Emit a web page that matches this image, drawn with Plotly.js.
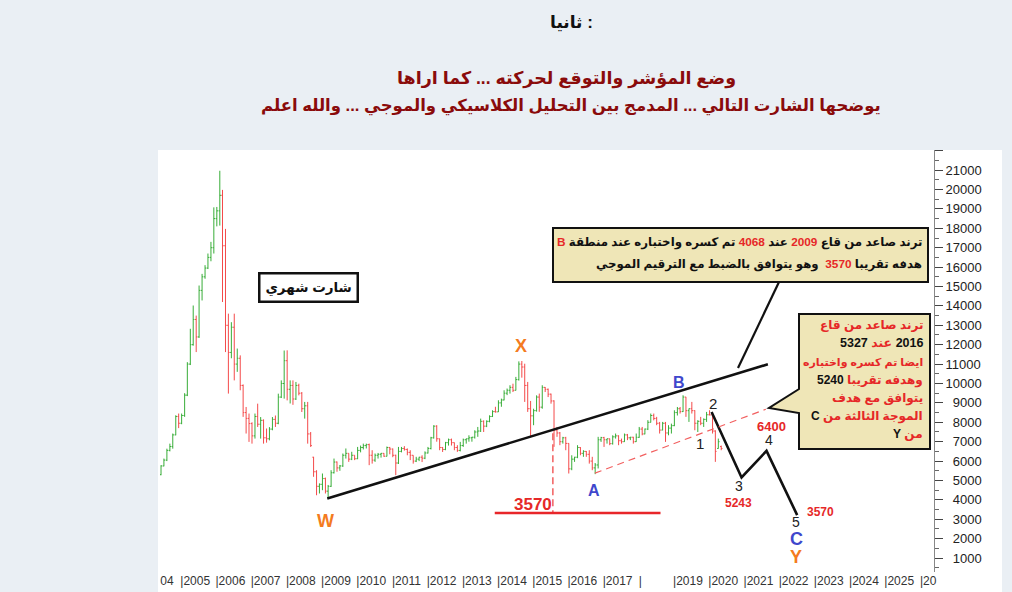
<!DOCTYPE html>
<html><head><meta charset="utf-8">
<script src="https://cdn.plot.ly/plotly-3.0.1.min.js"></script>
<style>html,body{margin:0;padding:0;background:#eaeff4;}#chart{width:1012px;height:592px;}</style>
</head><body><div id="chart"></div>
<script>
// ---- monthly OHLC bars (first bar June 2004) ----
const firstYear = 2004, firstMonth = 6;
const open = [
 5300,5750,6050,6550,6750,7350,8300,
 7950,8350,9400,11000,12000,13300,12400,14800,15500,15950,16500,17000,
 18500,18900,19700,17100,13000,11600,12900,11000,11300,9900,8500,8200,
 7933,7300,8300,7900,8100,7200,7150,7650,8150,7950,9300,10000,
 11176,9700,9900,9200,9900,9500,8700,8850,7400,6200,5450,4700,
 4803,5100,4450,4700,5400,5950,5650,5750,6300,6400,6100,6300,
 6122,6550,6700,6800,6850,6300,6050,6300,6350,6400,6250,6700,
 6621,6300,5900,6500,6650,6600,6450,6300,6000,6100,6200,6150,
 6418,6650,7200,7800,7150,6700,6600,6950,7100,6950,6700,6550,
 6801,7100,7150,7200,7230,7500,7550,8050,7800,8050,8300,8550,
 8536,9000,9150,9500,9650,9800,9650,10200,11000,10850,9900,8700,
 8333,8600,9300,8780,9800,9700,9450,9100,7600,7450,7000,7200,
 6912,5600,6100,6200,6700,6400,6500,6350,6000,5650,5800,7100,
 7210,7100,7150,6900,7250,7300,7050,7000,7350,7200,7230,7000,
 7226,7650,7400,7650,8000,8350,8200,7950,7600,7950,7450,7700,
 7827,8500,8700,8550,9300,8600,8700,8600,7950,8050,7950,8150,
 8389,8380,7550,6650,6750];
const high = [
 5790,6130,6640,6900,7420,8360,8450,
 8450,9500,11100,12820,14020,13500,15050,15650,16100,16700,17300,19080,
 19100,20966,19980,17970,13600,13160,13600,11800,11450,9950,8790,8450,
 8000,8450,8960,8270,8150,7680,7750,8270,8350,9475,10160,11700,
 11710,10160,10160,10080,9990,9560,9050,9050,7500,6220,5530,4850,
 5360,5150,4770,5530,6130,5980,5800,6390,6650,6400,6480,6300,
 6730,6800,6900,6900,6900,6560,6390,6420,6420,6410,6750,6730,
 6650,6330,6730,6730,6770,6650,6560,6300,6220,6220,6300,6500,
 6730,7250,7850,7850,7160,6730,6990,7160,7160,6960,6820,6990,
 7160,7160,7330,7250,7590,7760,8190,8100,8100,8360,8620,8800,
 9135,9220,9650,9740,9910,9990,10340,11140,11159,11020,10080,9100,
 8700,9390,9480,9910,9820,9740,9480,9135,7760,7500,7250,7250,
 6920,6300,6220,6820,6720,6560,6520,6560,6220,5900,7250,7250,
 7250,7160,7160,7330,7420,7330,7160,7420,7400,7250,7250,7420,
 7760,7760,7680,8110,8450,8450,8280,8020,8020,8020,7850,7930,
 8620,8790,8790,9393,9310,8710,9050,8620,8110,8280,8200,8535,
 8620,8450,7590,7160,6800];
const low = [
 5270,5730,6000,6500,6640,7330,7700,
 7900,8280,9350,10950,11950,11620,12350,14280,15400,15900,16300,16700,
 18100,18140,14200,11620,9480,11300,10160,10600,9650,8280,7420,6990,
 6900,7160,7760,7160,6900,6950,7070,7590,7760,7900,9250,9220,
 9130,8970,8900,9150,9390,8530,8190,6900,6730,5190,4240,4330,
 4500,4330,4068,4670,5360,5450,5500,5700,6130,5960,6050,6050,
 6100,6450,6600,6650,5790,5870,5960,6130,6180,6220,6240,6350,
 6200,5273,5850,6450,6540,6300,6050,5870,5950,6000,5950,6100,
 6390,6600,7160,7000,6560,6470,6560,6800,6800,6560,6475,6500,
 6733,6900,7000,7000,7160,7250,7500,7500,7750,8000,8270,8500,
 8530,8800,9130,9400,9480,9560,9640,10150,10300,9050,8535,7230,
 7850,8550,8540,8700,9560,9300,8960,6733,7250,6820,6900,6560,
 5360,5530,5960,6150,6300,6220,6220,5870,5530,5327,5620,6990,
 6730,6900,6820,6850,7160,6820,6900,6990,7080,7080,6900,6990,
 7200,7330,7380,7600,7990,8100,7850,7420,7590,6990,7330,7420,
 7800,8350,8450,8530,8280,8020,8450,7590,7500,7850,7760,8020,
 8360,7420,5960,6640,6560];
const close = [
 5750,6050,6550,6750,7350,8300,7950,
 8350,9400,11000,12000,13300,12400,14800,15500,15950,16500,17000,18500,
 18900,19700,17100,13000,11600,12900,11000,11300,9900,8500,8200,7933,
 7300,8300,7900,8100,7200,7150,7650,8150,7950,9300,10000,11176,
 9700,9900,9200,9900,9500,8700,8850,7400,6800,5450,4700,4803,
 5100,4450,4700,5400,5950,5650,5750,6300,6400,6100,6300,6122,
 6550,6700,6800,6850,6300,6050,6300,6350,6400,6250,6700,6621,
 6300,5900,6500,6650,6600,6450,6300,6000,6100,6200,6150,6418,
 6650,7200,7800,7150,6700,6600,6950,7100,6950,6700,6550,6801,
 7100,7150,7200,7230,7500,7550,8050,7800,8050,8300,8550,8536,
 9000,9150,9500,9650,9800,9650,10200,11000,10850,9900,8700,8333,
 8600,9300,8780,9800,9700,9450,9100,7600,7450,7000,7200,6912,
 5600,6100,6200,6700,6400,6500,6350,6000,5650,5800,7100,7210,
 7100,7150,6900,7250,7300,7050,7000,7350,7200,7230,7000,7226,
 7650,7400,7650,8000,8350,8200,7950,7600,7950,7450,7700,7827,
 8500,8700,8550,9300,8600,8700,8600,7950,8050,7950,8150,8389,
 8380,7550,6500,7000,6650];

// ---- axis labels ----
const years = [2005,2006,2007,2008,2009,2010,2011,2012,2013,2014,2015,2016,2017,2018,2019,2020,2021,2022,2023,2024,2025,2026];
const yearLabels = ['|2005','|2006','|2007','|2008','|2009','|2010','|2011','|2012','|2013','|2014','|2015','|2016','|2017','|','|2019','|2020','|2021','|2022','|2023','|2024','|2025','|20'];
const leftCutLabel = '04';
const yTickValues = [1000,2000,3000,4000,5000,6000,7000,8000,9000,10000,11000,12000,13000,14000,15000,16000,17000,18000,19000,20000,21000,22000];

// ---- drawn analysis (value units) ----
const trendX = ['2009-02-20','2021-08-28'];      const trendY = [4068, 10990];
const channelX = ['2016-09-28','2021-08-07'];    const channelY = [5378, 8672];
const breakX = ['2015-07-20','2015-07-20'];      const breakY = [7437, 3320];
const targetX = ['2013-11-24','2018-08-10'];     const targetY = [3320, 3320];
const projX = ['2020-01-22','2020-11-28','2021-08-14','2022-06-28'];
const projY = [8533, 5157, 6526, 3217];

// ---- helpers ----
const dates = open.map((_, i) => {
  const m = firstMonth - 1 + i;
  const y = firstYear + Math.floor(m / 12);
  return y + '-' + String(m % 12 + 1).padStart(2, '0') + '-01';
});
function dy(t){ const y=Math.floor(t); const s=Date.UTC(y,0,1), e=Date.UTC(y+1,0,1);
  return new Date(s+(t-y)*(e-s)).toISOString().slice(0,19).replace('T',' '); }
const L=160, R=934, T=150, B=572;
const px = x => (x-L)/(R-L);
const py = y => (B-y)/(B-T);
const PXYR = 35.2, X2005 = 181.6;
const tOf = x => 2005 + (x - X2005)/PXYR;

const tickvals = years.map((y, i) => {
  const lab = yearLabels[i];
  const off = lab === '|' ? 1.2 : (lab.length === 3 ? 7.4 : 13.6);
  return dy(y + off/PXYR);
});
tickvals.unshift(dy(tOf(167)));
const ticktext = [leftCutLabel].concat(yearLabels);
const FS = '\u2007';
const yTickText = yTickValues.map(v => v === 22000 ? ' ' : (String(v).length < 5 ? FS + v : String(v)));

const RED = '#e62828', ORANGE = '#f47b20', BLUE = '#3f47cc', BOX = '#efe6b7';
const AR = 'Liberation Sans, DejaVu Sans, sans-serif';
const RLE = '\u202B', PDF = '\u202C';
const rtl = s => RLE + s + PDF;
const red = s => '<span style="color:' + RED + '">' + s + '</span>';
const blk = s => '<span style="color:#111">' + s + '</span>';

function lab(text, x, y, size, color, extra){
  return Object.assign({text: text, xref:'paper', yref:'paper', x: px(x), y: py(y),
    xanchor:'center', yanchor:'middle', showarrow:false,
    font:{family: AR, size: size, color: color}}, extra||{});
}

const annotations = [
  // titles
  lab('<b>ثانيا :</b>', 571, 22, 17, '#111'),
  lab('<b>وضع المؤشر والتوقع لحركته ... كما اراها</b>', 566, 78, 17.5, '#8a0b0b'),
  lab('<b>يوضحها الشارت التالي ... المدمج بين التحليل الكلاسيكي والموجي ... والله اعلم</b>', 571, 106, 16.5, '#8a0b0b'),
  // monthly label box
  lab('<b>شارت شهري</b>', 308, 287.5, 13.5, '#111', {bgcolor:'#ffffff', bordercolor:'#111', borderwidth:2.5, borderpad:5}),
  // big box text
  lab('<b>' + rtl('ترند صاعد من قاع ' + red('2009') + ' عند ' + red('4068') + ' تم كسره واختباره عند منطقة ' + red('B')) + '</b>', 924, 242, 11.8, '#111', {xanchor:'right'}),
  lab('<b>' + rtl('هدفه تقريبا ' + red('3570') + '  وهو يتوافق بالضبط مع الترقيم الموجي') + '</b>', 924, 264, 11.8, '#111', {xanchor:'right'}),
  // right box text
  lab('<b>' + rtl('ترند صاعد من قاع') + '</b>', 925, 325, 12, RED, {xanchor:'right'}),
  lab('<b>' + rtl(blk('2016') + ' عند ' + blk('5327')) + '</b>', 925, 343, 12.5, RED, {xanchor:'right'}),
  lab('<b>' + rtl('ايضا تم كسره واختباره') + '</b>', 925, 362, 11, RED, {xanchor:'right'}),
  lab('<b>' + rtl('وهدفه تقريبا ' + blk('5240')) + '</b>', 925, 380, 12, RED, {xanchor:'right'}),
  lab('<b>' + rtl('يتوافق مع هدف') + '</b>', 925, 398, 12, RED, {xanchor:'right'}),
  lab('<b>' + rtl('الموجة الثالثة من ' + blk('C')) + '</b>', 925, 416, 12, RED, {xanchor:'right'}),
  lab('<b>' + rtl('من ' + blk('Y')) + '</b>', 925, 434, 12, RED, {xanchor:'right'}),
  // wave labels
  lab('<b>X</b>', 521, 346, 18, ORANGE),
  lab('<b>W</b>', 325, 521, 18, ORANGE),
  lab('<b>Y</b>', 796, 557, 18, ORANGE),
  lab('<b>B</b>', 679, 382, 16, BLUE),
  lab('<b>A</b>', 594, 490, 16, BLUE),
  lab('<b>C</b>', 796, 539, 18, BLUE),
  lab('1', 699.5, 443, 15, '#222'),
  lab('2', 713, 403, 15, '#222'),
  lab('3', 739, 486, 14, '#222'),
  lab('4', 769, 440, 14, '#222'),
  lab('5', 795.5, 522, 14, '#222'),
  lab('<b>5243</b>', 738, 502.5, 12, RED),
  lab('<b>6400</b>', 771, 426.5, 13, RED),
  lab('<b>3570</b>', 820.5, 512, 12, RED),
  lab('<b>3570</b>', 532.5, 504.5, 17, RED)
];

function pathPaper(pts){ return 'M' + pts.map(p => px(p[0]) + ',' + py(p[1])).join(' L') + ' Z'; }

const shapes = [
  {type:'rect', xref:'paper', yref:'paper', x0:px(158), x1:px(1002), y0:py(592), y1:py(150), fillcolor:'#ffffff', line:{width:0}, layer:'below'},
  {type:'line', xref:'x', yref:'y', x0:trendX[0], y0:trendY[0], x1:trendX[1], y1:trendY[1], line:{color:'#111', width:2.6}},
  {type:'line', xref:'x', yref:'y', x0:channelX[0], y0:channelY[0], x1:channelX[1], y1:channelY[1], line:{color:'#f26060', width:1.2, dash:'7px,5px'}},
  {type:'line', xref:'x', yref:'y', x0:breakX[0], y0:breakY[0], x1:breakX[1], y1:breakY[1], line:{color:'#f26060', width:1.5, dash:'7px,4px'}},
  {type:'line', xref:'x', yref:'y', x0:targetX[0], y0:targetY[0], x1:targetX[1], y1:targetY[1], line:{color:'#e8262a', width:2.5}},
  {type:'line', xref:'paper', yref:'paper', x0:px(779), y0:py(282), x1:px(738), y1:py(368), line:{color:'#111', width:2.2}},
  {type:'rect', xref:'paper', yref:'paper', x0:px(553), x1:px(928), y0:py(282), y1:py(228), fillcolor:BOX, line:{color:'#111', width:2}},
  {type:'path', xref:'paper', yref:'paper', path: pathPaper([[799,314],[930,314],[930,449],[799,449],[799,413],[769,408],[799,389]]), fillcolor:BOX, line:{color:'#111', width:2}}
];

const traces = [
  {type:'ohlc', x:dates, open:open, high:high, low:low, close:close,
   increasing:{line:{color:'#38ad38', width:1}}, decreasing:{line:{color:'#f44a4a', width:1}},
   tickwidth:0.45, hoverinfo:'skip', showlegend:false},
  {type:'scatter', mode:'lines', x:projX, y:projY, line:{color:'#111', width:2.6}, hoverinfo:'skip', showlegend:false}
];

const layout = {
  width:1012, height:592,
  margin:{l:L, r:1012-R, t:T, b:592-B, pad:0},
  paper_bgcolor:'#eaeff4', plot_bgcolor:'#ffffff',
  showlegend:false,
  xaxis:{type:'date', range:[dy(tOf(L)), dy(tOf(R))], rangeslider:{visible:false},
    tickmode:'array', tickvals:tickvals, ticktext:ticktext, ticks:'', showgrid:false, zeroline:false, showline:false,
    tickfont:{family:'Liberation Sans, Arial, sans-serif', size:12, color:'#333'}},
  yaxis:{side:'right', range:[283, 22036], tickmode:'array', tickvals:yTickValues, ticktext:yTickText,
    ticks:'outside', ticklen:8, tickcolor:'#444', tickwidth:1,
    minor:{tickmode:'linear', tick0:500, dtick:1000, ticks:'outside', ticklen:4, tickcolor:'#666'},
    showline:true, linecolor:'#888', linewidth:1, showgrid:false, zeroline:false,
    tickfont:{family:'Liberation Sans, Arial, sans-serif', size:13, color:'#222'}},
  shapes:shapes, annotations:annotations
};

Plotly.newPlot('chart', traces, layout, {displayModeBar:false, staticPlot:true});
</script>
</body></html>
